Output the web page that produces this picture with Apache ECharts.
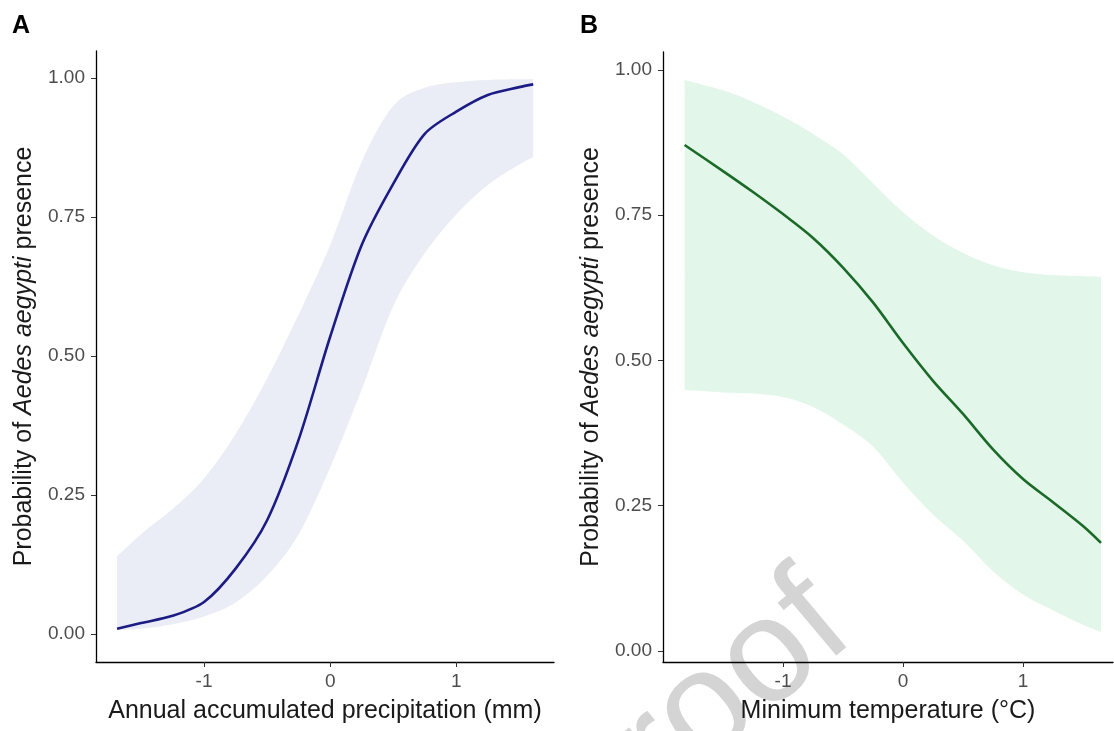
<!DOCTYPE html>
<html>
<head>
<meta charset="utf-8">
<title>Probability of Aedes aegypti presence</title>
<script src="https://cdn.jsdelivr.net/npm/echarts@6/dist/echarts.min.js"></script>
<style>
    html, body { margin: 0; padding: 0; background: #fff; }
    #chart { width: 1114px; height: 731px; }
</style>
</head>
<body>
<div id="chart"></div>
<script type="text/javascript">
    // panel A: precipitation
    var precipX     = [-1.69, -1.5, -1.25, -1.0, -0.75, -0.5, -0.25, 0, 0.25, 0.5, 0.75, 1.0, 1.25, 1.5, 1.61];
    var precipFit   = [0.010, 0.020, 0.033, 0.058, 0.118, 0.205, 0.35, 0.535, 0.70, 0.81, 0.90, 0.94, 0.97, 0.984, 0.989];
    var precipLower = [0.008, 0.010, 0.018, 0.032, 0.057, 0.105, 0.18, 0.30, 0.44, 0.59, 0.685, 0.755, 0.808, 0.845, 0.858];
    var precipUpper = [0.14, 0.18, 0.225, 0.28, 0.36, 0.46, 0.575, 0.70, 0.85, 0.95, 0.983, 0.993, 0.997, 0.998, 0.998];

    // panel B: minimum temperature
    var tempX     = [-1.82, -1.5, -1.25, -1.0, -0.75, -0.5, -0.25, 0, 0.25, 0.5, 0.75, 1.0, 1.25, 1.5, 1.65];
    var tempFit   = [0.871, 0.826, 0.79, 0.752, 0.711, 0.66, 0.60, 0.53, 0.465, 0.408, 0.347, 0.296, 0.256, 0.215, 0.186];
    var tempLower = [0.449, 0.445, 0.443, 0.437, 0.42, 0.39, 0.352, 0.29, 0.235, 0.19, 0.137, 0.097, 0.07, 0.045, 0.033];
    var tempUpper = [0.983, 0.965, 0.945, 0.92, 0.89, 0.855, 0.805, 0.755, 0.715, 0.685, 0.664, 0.652, 0.647, 0.645, 0.644];

    var yTicks = [0, 0.25, 0.5, 0.75, 1];
    var xTicks = [-1, 0, 1];

    var FONT = 'Liberation Sans, Arial, sans-serif';

    function zip(xs, ys) {
        var out = [];
        for (var i = 0; i < xs.length; i++) out.push([xs[i], ys[i]]);
        return out;
    }

    // catmull-rom through pts, appended to a path string (no initial move)
    function curveThrough(pts) {
        var d = '';
        for (var i = 0; i < pts.length - 1; i++) {
            var p0 = pts[Math.max(i - 1, 0)], p1 = pts[i], p2 = pts[i + 1], p3 = pts[Math.min(i + 2, pts.length - 1)];
            var c1 = [p1[0] + (p2[0] - p0[0]) / 6, p1[1] + (p2[1] - p0[1]) / 6];
            var c2 = [p2[0] - (p3[0] - p1[0]) / 6, p2[1] - (p3[1] - p1[1]) / 6];
            d += ' C' + c1[0] + ',' + c1[1] + ' ' + c2[0] + ',' + c2[1] + ' ' + p2[0] + ',' + p2[1];
        }
        return d;
    }

    // ribbon between lower and upper bounds, drawn through the axis scales
    function ribbon(xs, lo, hi, idx, color) {
        return {
            type: 'custom',
            xAxisIndex: idx,
            yAxisIndex: idx,
            z: 1,
            silent: true,
            data: [[xs[0], lo[0]]],
            renderItem: function (params, api) {
                var top = [], bot = [];
                for (var i = 0; i < xs.length; i++) top.push(api.coord([xs[i], hi[i]]));
                for (var j = xs.length - 1; j >= 0; j--) bot.push(api.coord([xs[j], lo[j]]));
                var d = 'M' + top[0][0] + ',' + top[0][1] + curveThrough(top) +
                    ' L' + bot[0][0] + ',' + bot[0][1] + curveThrough(bot) + ' Z';
                return {
                    type: 'path',
                    shape: { pathData: d },
                    style: { fill: color }
                };
            }
        };
    }

    function xAxisOf(idx, name, min, max) {
        return {
            type: 'value', gridIndex: idx, min: min, max: max,
            name: name, nameLocation: 'middle', nameGap: 37,
            nameTextStyle: { fontSize: 25, color: '#1a1a1a', fontFamily: FONT },
            axisLine: { onZero: false, lineStyle: { color: '#000', width: 1.3 } },
            axisTick: { customValues: xTicks, length: 5, lineStyle: { color: '#333' } },
            axisLabel: { customValues: xTicks, fontSize: 19, color: '#4d4d4d', margin: 10, fontFamily: FONT },
            splitLine: { show: false }
        };
    }

    function yAxisOf(idx, min, max) {
        return {
            type: 'value', gridIndex: idx, min: min, max: max,
            name: '{n|Probability of }{i|Aedes aegypti}{n| presence}',
            nameLocation: 'middle', nameGap: 59,
            nameTextStyle: {
                fontSize: 25, color: '#1a1a1a', fontFamily: FONT,
                rich: {
                    n: { fontSize: 25, color: '#1a1a1a', fontFamily: FONT },
                    i: { fontSize: 25, color: '#1a1a1a', fontFamily: FONT, fontStyle: 'italic' }
                }
            },
            axisLine: { show: true, onZero: false, lineStyle: { color: '#000', width: 1.3 } },
            axisTick: { show: true, customValues: yTicks, length: 5, lineStyle: { color: '#333' } },
            axisLabel: {
                customValues: yTicks, fontSize: 19, color: '#4d4d4d', margin: 11, fontFamily: FONT,
                formatter: function (v) { return v.toFixed(2); }
            },
            splitLine: { show: false }
        };
    }

    var chart = echarts.init(document.getElementById('chart'));
    var option = {
        animation: false,
        backgroundColor: '#fff',
        grid: [
            { left: 96, right: 560, top: 51, bottom: 69 },
            { left: 663, right: 1, top: 52, bottom: 69 }
        ],
        xAxis: [
            xAxisOf(0, 'Annual accumulated precipitation (mm)', -1.857, 1.775),
            xAxisOf(1, 'Minimum temperature (°C)', -2.0, 1.75)
        ],
        yAxis: [
            yAxisOf(0, -0.05, 1.049),
            yAxisOf(1, -0.019, 1.031)
        ],
        graphic: [
            { type: 'text', left: 12, top: 14, style: { text: 'A', fill: '#000', font: 'bold 25px Liberation Sans, Arial, sans-serif' } },
            { type: 'text', left: 580, top: 14, style: { text: 'B', fill: '#000', font: 'bold 25px Liberation Sans, Arial, sans-serif' } },
            {
                type: 'text', x: 696, y: 720, rotation: 40 * Math.PI / 180, z: 0, silent: true,
                style: {
                    text: 'Proof', fill: '#d4d4d4',
                    font: '148px Liberation Sans, Arial, sans-serif',
                    align: 'center', verticalAlign: 'middle'
                }
            }
        ],
        series: [
            ribbon(precipX, precipLower, precipUpper, 0, '#eaedf5'),
            {
                type: 'line', xAxisIndex: 0, yAxisIndex: 0, z: 3,
                data: zip(precipX, precipFit), smooth: 0.3, showSymbol: false,
                lineStyle: { color: '#1c1c84', width: 2.6 }
            },
            ribbon(tempX, tempLower, tempUpper, 1, '#e2f6ea'),
            {
                type: 'line', xAxisIndex: 1, yAxisIndex: 1, z: 3,
                data: zip(tempX, tempFit), smooth: 0.3, showSymbol: false,
                lineStyle: { color: '#1b6a28', width: 2.6 }
            }
        ]
    };
    chart.setOption(option);
</script>
</body>
</html>
